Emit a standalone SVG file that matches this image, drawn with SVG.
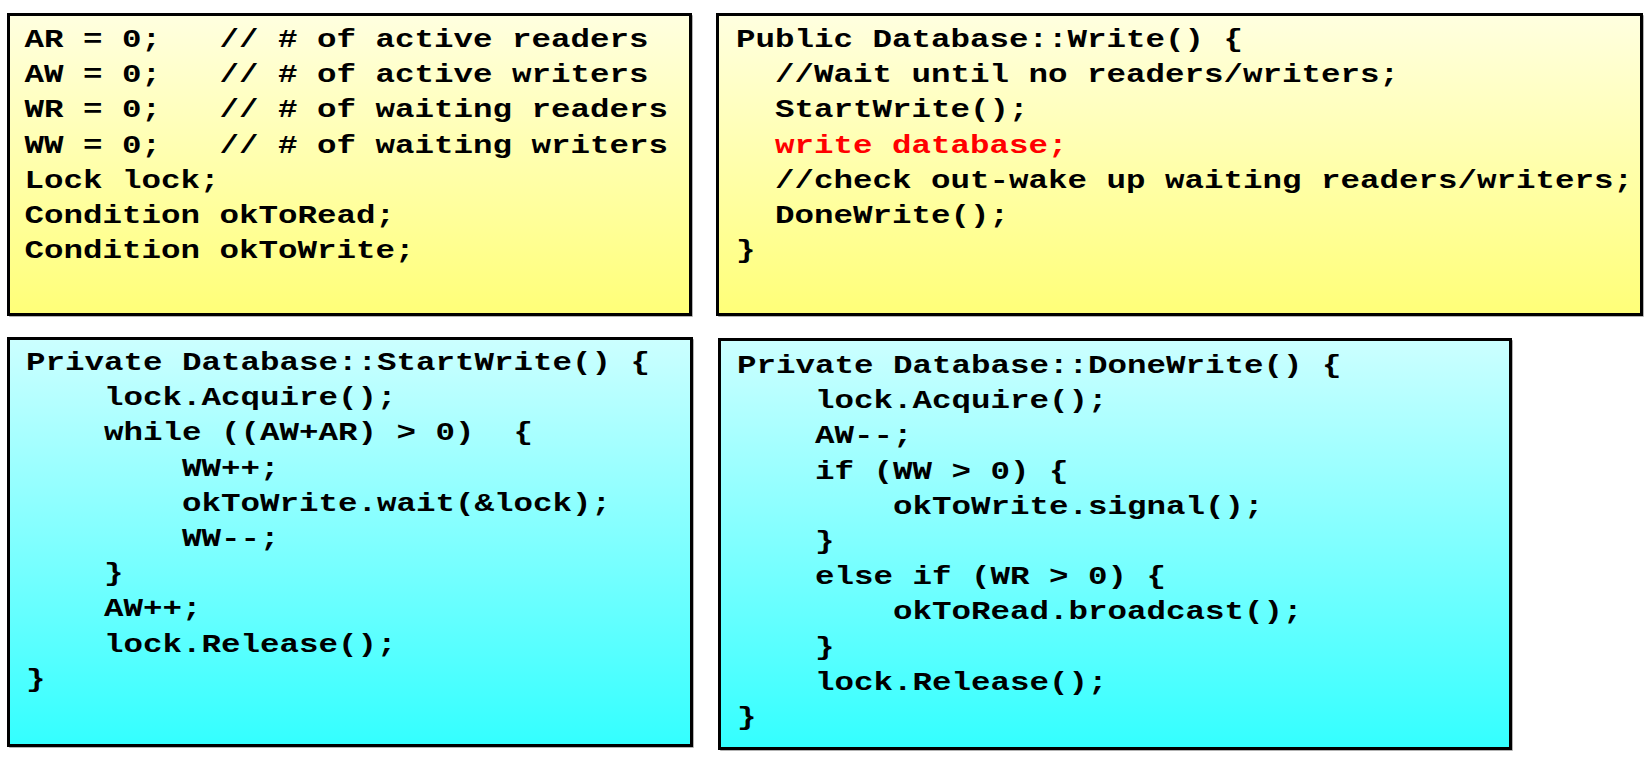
<svg xmlns="http://www.w3.org/2000/svg" width="1646" height="758" viewBox="0 0 1646 758">
<defs>
<linearGradient id="gy" x1="0" y1="0" x2="0" y2="1">
<stop offset="0" stop-color="#ffffe0"/>
<stop offset="1" stop-color="#ffff78"/>
</linearGradient>
<linearGradient id="gc" x1="0" y1="0" x2="0" y2="1">
<stop offset="0" stop-color="#ccffff"/>
<stop offset="1" stop-color="#33ffff"/>
</linearGradient>
<style>
.box{stroke:#000;stroke-width:3}
.shadow{fill:none;stroke:#999;stroke-width:1.5}
.code{font-family:"Liberation Mono","Courier New",monospace;font-weight:bold;font-size:26px;fill:#000}
.red{fill:#ff0000}
</style>
</defs>
<rect width="1646" height="758" fill="#fff"/>
<g id="globals">
<rect class="shadow" x="10" y="16" width="682" height="300"/>
<rect class="box" x="8.5" y="14.5" width="682" height="300" fill="url(#gy)"/>
<g class="code" transform="translate(24.5 0) scale(1.25 1)">
<text x="0" y="47">AR = 0;</text><text x="156" y="47">// # of active readers</text>
<text x="0" y="82.2">AW = 0;</text><text x="156" y="82.2">// # of active writers</text>
<text x="0" y="117.4">WR = 0;</text><text x="156" y="117.4">// # of waiting readers</text>
<text x="0" y="152.6">WW = 0;</text><text x="156" y="152.6">// # of waiting writers</text>
<text x="0" y="187.8">Lock lock;</text>
<text x="0" y="223">Condition okToRead;</text>
<text x="0" y="258.2">Condition okToWrite;</text>
</g>
</g>
<g id="write">
<rect class="shadow" x="719" y="16" width="924" height="300"/>
<rect class="box" x="717.5" y="14.5" width="924" height="300" fill="url(#gy)"/>
<g class="code" transform="translate(736 0) scale(1.25 1)">
<text x="0" y="47">Public Database::Write() {</text>
<text x="31.2" y="82.2">//Wait until no readers/writers;</text>
<text x="31.2" y="117.4">StartWrite();</text>
<text x="31.2" y="152.6" class="red">write database;</text>
<text x="31.2" y="187.8">//check out-wake up waiting readers/writers;</text>
<text x="31.2" y="223">DoneWrite();</text>
<text x="0" y="258.2">}</text>
</g>
</g>
<g id="startwrite">
<rect class="shadow" x="10" y="340" width="683" height="407"/>
<rect class="box" x="8.5" y="338.5" width="683" height="407" fill="url(#gc)"/>
<g class="code" transform="translate(26 0) scale(1.25 1)">
<text x="0" y="370">Private Database::StartWrite() {</text>
<text x="62.4" y="405.2">lock.Acquire();</text>
<text x="62.4" y="440.4">while ((AW+AR) &gt; 0)</text><text x="390" y="440.4">{</text>
<text x="124.8" y="475.6">WW++;</text>
<text x="124.8" y="510.8">okToWrite.wait(&amp;lock);</text>
<text x="124.8" y="546">WW--;</text>
<text x="62.4" y="581.2">}</text>
<text x="62.4" y="616.4">AW++;</text>
<text x="62.4" y="651.6">lock.Release();</text>
<text x="0" y="686.8">}</text>
</g>
</g>
<g id="donewrite">
<rect class="shadow" x="721" y="341" width="791" height="409"/>
<rect class="box" x="719.5" y="339.5" width="791" height="409" fill="url(#gc)"/>
<g class="code" transform="translate(737 0) scale(1.25 1)">
<text x="0" y="373">Private Database::DoneWrite() {</text>
<text x="62.4" y="408.2">lock.Acquire();</text>
<text x="62.4" y="443.4">AW--;</text>
<text x="62.4" y="478.6">if (WW &gt; 0) {</text>
<text x="124.8" y="513.8">okToWrite.signal();</text>
<text x="62.4" y="549">}</text>
<text x="62.4" y="584.2">else if (WR &gt; 0) {</text>
<text x="124.8" y="619.4">okToRead.broadcast();</text>
<text x="62.4" y="654.6">}</text>
<text x="62.4" y="689.8">lock.Release();</text>
<text x="0" y="725">}</text>
</g>
</g>
<g id="connectors"/>
</svg>
